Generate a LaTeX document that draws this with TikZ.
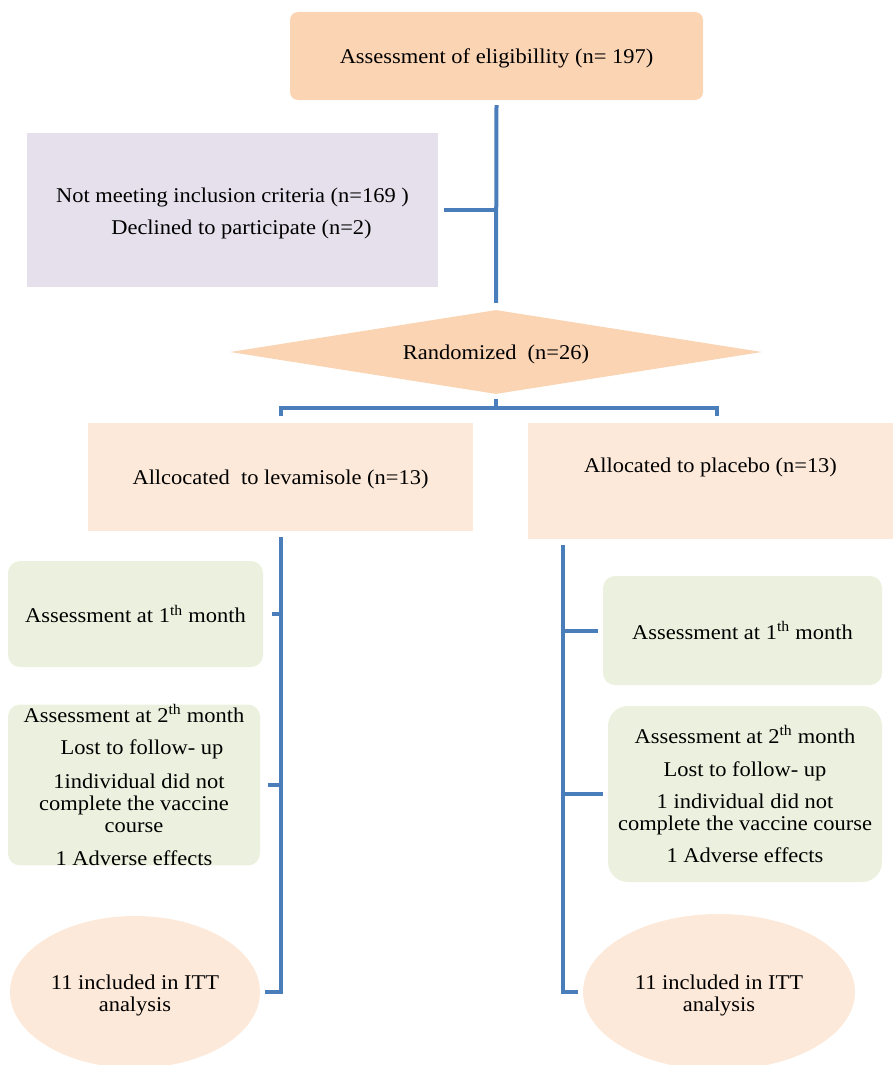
\documentclass[tikz,border=0pt]{standalone}
\usepackage{fontspec}
\setmainfont{Liberation Serif}[FakeStretch=1.07]
\usetikzlibrary{shapes.geometric,calc}
\definecolor{naranja}{HTML}{FBD4B4}
\definecolor{naranjaclaro}{HTML}{FDE9D9}
\definecolor{lila}{HTML}{E5E0EC}
\definecolor{verde}{HTML}{EBF1DE}
\definecolor{linea}{HTML}{4A7EBB}
\tikzset{
  texto/.style={inner sep=0pt,align=center,font=\fontsize{21}{22}\selectfont},
  caja/.style={texto,rectangle,text height=20pt},
  control/.style={texto,rectangle,fill=verde,rounded corners=12pt},
  rombo/.style={texto,diamond,fill=naranja,aspect=6.3,text height=20pt,
                minimum width=532pt,minimum height=84pt},
  itt/.style={texto,ellipse,fill=naranjaclaro,text height=44.5pt},
  enlace/.style={draw=linea,line width=4pt},
}
\begin{document}
\begin{tikzpicture}[x=1pt,y=-1pt]
  \useasboundingbox (0,0) rectangle (893,1065);
  % cribado
  \node[caja,fill=naranja,rounded corners=8pt,minimum width=413pt,minimum height=88pt]
    (elig) at (496.5,56) {Assessment of eligibillity (n= 197)};
  \node[caja,fill=lila,minimum width=411pt,minimum height=154pt,text height=53pt] (excl) at (232.5,210)
    {Not meeting inclusion criteria (n=169 )\\[10pt]\hspace*{18pt}Declined to participate (n=2)};
  \node[rombo] (rand) at (496,352) {Randomized\ \ (n=26)};
  % asignacion
  \node[caja,fill=naranjaclaro,minimum width=385pt,minimum height=108pt]
    (alL) at (280.5,477) {Allcocated\ \ to levamisole (n=13)};
  \node[caja,fill=naranjaclaro,minimum width=365pt,minimum height=116pt,text depth=37pt]
    (alR) at (710.5,481) {Allocated to placebo (n=13)};
  % seguimiento
  \node[control,minimum width=255pt,minimum height=106pt] (a1L) at (135.5,614)
    {Assessment at 1\textsuperscript{th} month};
  \node[control,minimum width=252pt,minimum height=160pt] (a2L) at (134,785)
    {Assessment at 2\textsuperscript{th} month\\[10pt]\hspace*{16pt}Lost to follow- up\\[12pt]
     \hspace*{10pt}1individual did not\\complete the vaccine\\course\\[11pt]1 Adverse effects};
  \node[control,minimum width=279pt,minimum height=109pt] (a1R) at (742.5,630.5)
    {Assessment at 1\textsuperscript{th} month};
  \node[control,rounded corners=20pt,minimum width=274pt,minimum height=176pt] (a2R) at (745,794)
    {Assessment at 2\textsuperscript{th} month\\[11pt]Lost to follow- up\\[10pt]
     1 individual did not\\complete the vaccine course\\[10pt]1 Adverse effects};
  \node[itt,minimum width=250pt,minimum height=152pt] (iL) at (135,992)
    {11 included in ITT\\analysis};
  \node[itt,minimum width=272pt,minimum height=156pt] (iR) at (719,992)
    {11 included in ITT\\analysis};
  % conectores
  \coordinate (reparto) at (496,408);
  \coordinate (troncoR) at (563,545);
  \draw[enlace] ([yshift=-5pt]elig.south) -- ([yshift=7pt]rand.north);
  \draw[enlace] ([xshift=6pt]excl.east) -- (excl.east -| elig.south);
  \draw[enlace] ([yshift=-5pt]rand.south) -- (reparto);
  \draw[enlace] ([yshift=7pt]alL.north) |- (reparto) -| ([xshift=6.5pt,yshift=7pt]alR.north);
  \draw[enlace] ([yshift=-6pt]alL.south) |- ([xshift=5pt]iL.east);
  \foreach \n/\d in {a1L/9pt,a2L/8pt}
    \draw[enlace] ([xshift=\d]\n.east) -- (\n.east -| alL.south);
  \draw[enlace] (troncoR) |- ([xshift=-5pt]iR.west);
  \foreach \n in {a1R,a2R}
    \draw[enlace] ([xshift=-5pt]\n.west) -- (\n.west -| troncoR);
\end{tikzpicture}
\end{document}
